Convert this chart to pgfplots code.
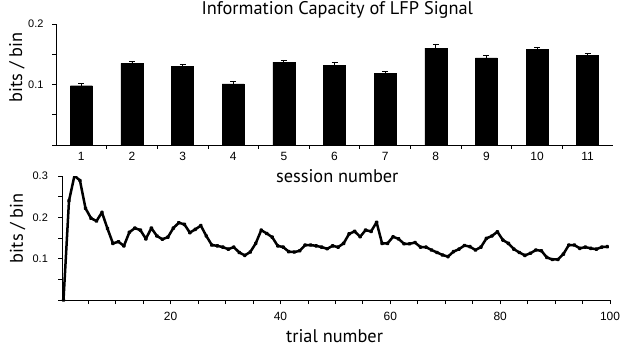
\documentclass[border=0pt]{standalone}
\usepackage{pgfplots}
\pgfplotsset{compat=1.18}
\usepackage{fontspec}
\setmainfont{Liberation Sans}
\newfontfamily\labfont{PT Sans}
\pgfplotstableread{
x y e
1 0.098 0.004
2 0.135 0.003
3 0.130 0.003
4 0.101 0.004
5 0.137 0.003
6 0.132 0.004
7 0.119 0.003
8 0.160 0.007
9 0.144 0.004
10 0.158 0.004
11 0.148 0.004
}\sessions
\pgfplotstableread{
x y
0.5 0
1.5 0.240
2.5 0.301
3.5 0.289
4.5 0.222
5.5 0.198
6.5 0.191
7.5 0.212
8.5 0.173
9.5 0.137
10.5 0.141
11.5 0.131
12.5 0.164
13.5 0.174
14.5 0.169
15.5 0.148
16.5 0.174
17.5 0.155
18.5 0.147
19.5 0.152
20.5 0.174
21.5 0.187
22.5 0.183
23.5 0.163
24.5 0.171
25.5 0.180
26.5 0.155
27.5 0.133
28.5 0.131
29.5 0.128
30.5 0.123
31.5 0.128
32.5 0.115
33.5 0.108
34.5 0.116
35.5 0.137
36.5 0.169
37.5 0.161
38.5 0.152
39.5 0.131
40.5 0.128
41.5 0.117
42.5 0.116
43.5 0.119
44.5 0.133
45.5 0.133
46.5 0.131
47.5 0.128
48.5 0.124
49.5 0.131
50.5 0.128
51.5 0.137
52.5 0.160
53.5 0.166
54.5 0.153
55.5 0.169
56.5 0.166
57.5 0.188
58.5 0.137
59.5 0.137
60.5 0.153
61.5 0.148
62.5 0.136
63.5 0.136
64.5 0.139
65.5 0.128
66.5 0.128
67.5 0.121
68.5 0.115
69.5 0.109
70.5 0.105
71.5 0.117
72.5 0.123
73.5 0.132
74.5 0.129
75.5 0.121
76.5 0.128
77.5 0.149
78.5 0.155
79.5 0.165
80.5 0.145
81.5 0.137
82.5 0.123
83.5 0.115
84.5 0.108
85.5 0.113
86.5 0.121
87.5 0.119
88.5 0.103
89.5 0.098
90.5 0.098
91.5 0.111
92.5 0.133
93.5 0.133
94.5 0.125
95.5 0.128
96.5 0.125
97.5 0.123
98.5 0.128
99.5 0.129
}\trials
\begin{document}
\begin{tikzpicture}
\useasboundingbox (0,0) rectangle (621bp,350bp);
\pgfplotsset{
  common/.style={
    scale only axis,
    axis lines*=left,
    axis line style={black, line width=0.8pt},
    tick align=outside,
    major tick length=4bp,
    minor tick length=4bp,
    every tick/.style={black, line width=0.7pt},
    /pgf/number format/assume math mode=true,
    /pgf/number format/fixed,
    yticklabel style={font=\fontsize{11}{13}\selectfont},
    xticklabel style={font=\fontsize{12}{14}\selectfont},
    label style={font=\labfont\fontsize{18.4}{20}\selectfont},
  }
}
\begin{axis}[common,
  at={(56bp,205bp)}, anchor=south west,
  width=557bp, height=121bp,
  xmin=0.5, xmax=11.5, ymin=0, ymax=0.2,
  xtick={1,...,11},
  major x tick style={draw=none},
  minor xtick={1.5,2.5,...,10.5},
  ytick={0.1,0.2},
  minor ytick={0,0.05,0.15},
  yticklabel style={xshift=-5bp},
  xlabel={session number},
  xlabel style={at={(axis description cs:0.505,-0.306)}, anchor=base},
  ylabel={bits / bin},
  ylabel style={at={(axis description cs:-0.061,0.64)}, anchor=base},
  title={Information Capacity of LFP Signal},
  title style={at={(axis description cs:0.505,1.025)}, anchor=base, font=\labfont\fontsize{18.4}{20}\selectfont},
]
\addplot[ybar, bar width=22bp, fill=black, draw=black,
  error bars/.cd, y dir=plus, y explicit,
  error bar style={black, line width=0.8pt},
  error mark options={rotate=90, black, line width=0.8pt, mark size=3bp}]
  table[x=x, y=y, y error=e]{\sessions};
\end{axis}
\begin{axis}[common,
  at={(62.4bp,50bp)}, anchor=south west,
  width=547.6bp, height=124bp,
  xmin=0.3, xmax=100, ymin=0, ymax=0.3,
  xtick={20,40,60,80,100},
  minor xtick={5,10,...,95},
  xticklabel style={yshift=-5bp},
  ytick={0.1,0.2,0.3},
  minor ytick={0,0.05,0.15,0.25},
  yticklabel style={xshift=-7bp},
  xlabel={trial number},
  xlabel style={at={(axis description cs:0.497,-0.339)}, anchor=base},
  ylabel={bits / bin},
  ylabel style={at={(axis description cs:-0.072,0.58)}, anchor=base},
]
\addplot[black, line width=2.5bp, line join=round, mark=*, mark size=0.8bp]
  table[x=x, y=y]{\trials};
\end{axis}
\end{tikzpicture}
\end{document}
